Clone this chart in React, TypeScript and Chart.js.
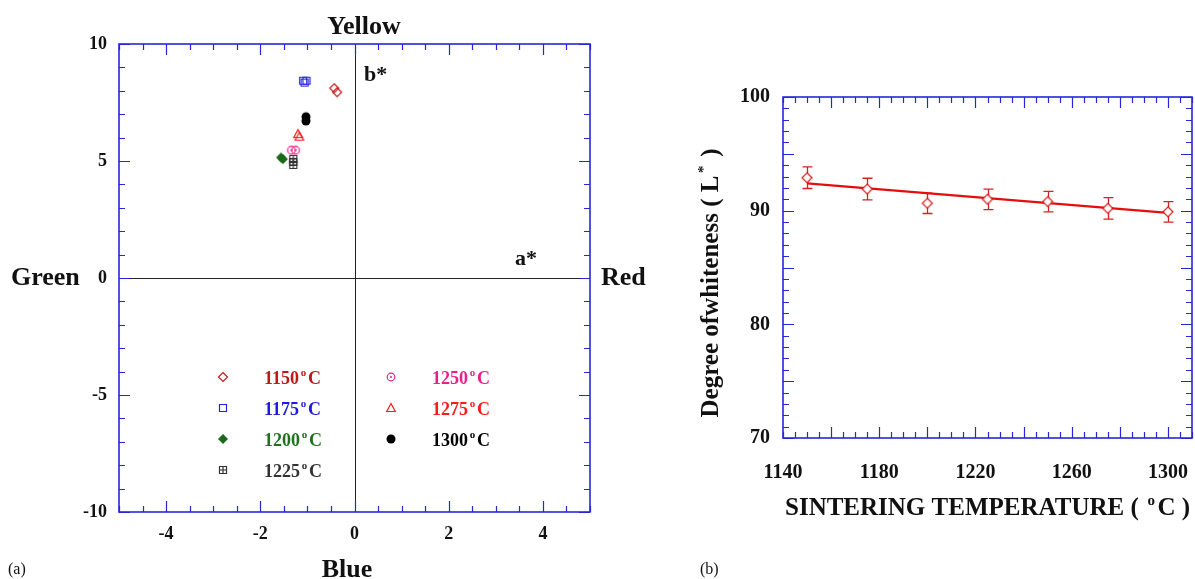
import React, { useEffect, useRef } from "react";
import { Chart, registerables } from "chart.js";

Chart.register(...registerables);

const FONT = "'Liberation Serif', 'Times New Roman', serif";
const BLUE = "rgb(38,38,222)";

// ---------- Panel (a): CIELAB a*, b* by sintering temperature ----------
const legendTemps = ["1150", "1175", "1200", "1225", "1250", "1275", "1300"];
const aStar1150 = [-0.43, -0.37];
const bStar1150 = [8.11, 7.94];
const aStar1175 = [-1.09, -1.02, -1.06];
const bStar1175 = [8.43, 8.43, 8.35];
const aStar1200 = [-1.56, -1.52];
const bStar1200 = [5.15, 5.08];
const aStar1225 = [-1.3, -1.3, -1.3];
const bStar1225 = [5.09, 4.96, 4.83];
const aStar1250 = [-1.34, -1.25];
const bStar1250 = [5.46, 5.46];
const aStar1275 = [-1.2, -1.17];
const bStar1275 = [6.15, 6.04];
const aStar1300 = [-1.03, -1.03];
const bStar1300 = [6.89, 6.71];
const aTickVals = [-4, -2, 0, 2, 4];
const bTickVals = [-10, -5, 0, 5, 10];

// ---------- Panel (b): whiteness vs sintering temperature ----------
const sinterTemps = [1150, 1175, 1200, 1225, 1250, 1275, 1300];
const whiteness = [92.9, 91.9, 90.65, 91.0, 90.8, 90.2, 89.9];
const whitenessErr = [0.95, 0.95, 0.9, 0.9, 0.9, 0.95, 0.9];
const fitTemps = [1150, 1300];
const fitWhiteness = [92.4, 89.8];
const tempTickVals = [1140, 1180, 1220, 1260, 1300];
const whiteTickVals = [70, 80, 90, 100];

type Part = { t: string; sup?: boolean };

function drawParts(
  ctx: CanvasRenderingContext2D,
  parts: Part[],
  x: number,
  y: number,
  size: number,
  weight: string,
  color: string,
  align: "left" | "center"
) {
  const main = `${weight} ${size}px ${FONT}`;
  const sup = `${weight} ${Math.round(size * 0.6)}px ${FONT}`;
  const gap = size * 0.1;
  let total = 0;
  for (const p of parts) {
    ctx.font = p.sup ? sup : main;
    total += ctx.measureText(p.t).width + (p.sup ? gap * 2 : 0);
  }
  let cx = align === "center" ? x - total / 2 : x;
  ctx.fillStyle = color;
  ctx.textAlign = "left";
  ctx.textBaseline = "alphabetic";
  for (const p of parts) {
    ctx.font = p.sup ? sup : main;
    if (p.sup) cx += gap;
    ctx.fillText(p.t, cx, p.sup ? y - size * 0.42 : y);
    cx += ctx.measureText(p.t).width + (p.sup ? gap : 0);
  }
}

function makeMarker(kind: string, color: string): HTMLCanvasElement {
  const s = 14;
  const c = document.createElement("canvas");
  c.width = s;
  c.height = s;
  const g = c.getContext("2d")!;
  const m = s / 2;
  g.strokeStyle = color;
  g.fillStyle = color;
  g.lineWidth = 1.2;
  g.beginPath();
  switch (kind) {
    case "diamond":
      g.moveTo(m, m - 4.5);
      g.lineTo(m + 4.5, m);
      g.lineTo(m, m + 4.5);
      g.lineTo(m - 4.5, m);
      g.closePath();
      g.stroke();
      break;
    case "diamondWhite":
      g.moveTo(m, m - 5);
      g.lineTo(m + 5, m);
      g.lineTo(m, m + 5);
      g.lineTo(m - 5, m);
      g.closePath();
      g.fillStyle = "#fff";
      g.fill();
      g.stroke();
      break;
    case "diamondFill":
      g.moveTo(m, m - 5);
      g.lineTo(m + 5, m);
      g.lineTo(m, m + 5);
      g.lineTo(m - 5, m);
      g.closePath();
      g.fill();
      break;
    case "square":
      g.rect(m - 3.5, m - 3.5, 7, 7);
      g.stroke();
      break;
    case "grid":
      g.rect(m - 3.5, m - 3.5, 7, 7);
      g.moveTo(m, m - 3.5);
      g.lineTo(m, m + 3.5);
      g.moveTo(m - 3.5, m);
      g.lineTo(m + 3.5, m);
      g.stroke();
      break;
    case "circleDot":
      g.arc(m, m, 3.8, 0, Math.PI * 2);
      g.stroke();
      g.beginPath();
      g.arc(m, m, 1, 0, Math.PI * 2);
      g.fill();
      break;
    case "triangle":
      g.moveTo(m, m - 4.5);
      g.lineTo(m + 4.3, m + 3.5);
      g.lineTo(m - 4.3, m + 3.5);
      g.closePath();
      g.stroke();
      break;
    case "circleFill":
      g.arc(m, m, 4.5, 0, Math.PI * 2);
      g.fill();
      break;
  }
  return c;
}

function drawInwardTicks(
  ctx: CanvasRenderingContext2D,
  chart: any,
  xMin: number,
  xMax: number,
  xStep: number,
  xMajor: (v: number) => boolean,
  yMin: number,
  yMax: number,
  yStep: number,
  yMajor: (v: number) => boolean
) {
  const { left, right, top, bottom } = chart.chartArea;
  const xs = chart.scales.x;
  const ys = chart.scales.y;
  ctx.save();
  ctx.strokeStyle = BLUE;
  ctx.lineWidth = 1.2;
  ctx.beginPath();
  const nx = Math.round((xMax - xMin) / xStep);
  for (let i = 0; i <= nx; i++) {
    const v = xMin + i * xStep;
    const px = Math.round(xs.getPixelForValue(v)) + 0.5;
    const len = xMajor(v) ? 11 : 6;
    ctx.moveTo(px, bottom);
    ctx.lineTo(px, bottom - len);
    ctx.moveTo(px, top);
    ctx.lineTo(px, top + len);
  }
  const ny = Math.round((yMax - yMin) / yStep);
  for (let i = 0; i <= ny; i++) {
    const v = yMin + i * yStep;
    const py = Math.round(ys.getPixelForValue(v)) + 0.5;
    const len = yMajor(v) ? 11 : 6;
    ctx.moveTo(left, py);
    ctx.lineTo(left + len, py);
    ctx.moveTo(right, py);
    ctx.lineTo(right - len, py);
  }
  ctx.stroke();
  ctx.lineWidth = 1.6;
  ctx.strokeRect(left, top, right - left, bottom - top);
  ctx.restore();
}

const legendSpecs = [
  { kind: "diamond", marker: "#c41a1a", text: "#c01818", col: 0, row: 0 },
  { kind: "square", marker: "#2424e0", text: "#1c1ce0", col: 0, row: 1 },
  { kind: "diamondFill", marker: "#1a6a1a", text: "#1f701f", col: 0, row: 2 },
  { kind: "grid", marker: "#333333", text: "#333333", col: 0, row: 3 },
  { kind: "circleDot", marker: "#e8208c", text: "#e8208c", col: 1, row: 0 },
  { kind: "triangle", marker: "#ff1a1a", text: "#ff1a1a", col: 1, row: 1 },
  { kind: "circleFill", marker: "#000000", text: "#000000", col: 1, row: 2 },
];

function PanelA() {
  const ref = useRef<HTMLCanvasElement>(null);
  useEffect(() => {
    const markers = legendSpecs.map((s) => makeMarker(s.kind, s.marker));
    const pairs = [
      [aStar1150, bStar1150],
      [aStar1175, bStar1175],
      [aStar1200, bStar1200],
      [aStar1225, bStar1225],
      [aStar1250, bStar1250],
      [aStar1275, bStar1275],
      [aStar1300, bStar1300],
    ];
    const datasets = pairs.map(([a, b], i) => ({
      label: legendTemps[i] + "°C",
      data: a.map((v, j) => ({ x: v, y: b[j] })),
      pointStyle: markers[i] as any,
      pointRadius: 5,
      showLine: false,
    }));

    const decor = {
      id: "decorA",
      beforeDatasetsDraw(chart: any) {
        const ctx = chart.ctx as CanvasRenderingContext2D;
        const { left, right, top, bottom } = chart.chartArea;
        const x0 = Math.round(chart.scales.x.getPixelForValue(0)) + 0.5;
        const y0 = Math.round(chart.scales.y.getPixelForValue(0)) + 0.5;
        ctx.save();
        ctx.strokeStyle = "#222";
        ctx.lineWidth = 1;
        ctx.beginPath();
        ctx.moveTo(x0, top);
        ctx.lineTo(x0, bottom);
        ctx.moveTo(left, y0);
        ctx.lineTo(right, y0);
        ctx.stroke();
        ctx.restore();
      },
      afterDraw(chart: any) {
        const ctx = chart.ctx as CanvasRenderingContext2D;
        drawInwardTicks(
          ctx,
          chart,
          -5,
          5,
          0.5,
          (v) => Math.abs(v % 2) < 1e-6,
          -10,
          10,
          1,
          (v) => Math.abs(v % 5) < 1e-6
        );
        ctx.save();
        drawParts(ctx, [{ t: "Yellow" }], 364, 34, 26, "bold", "#111", "center");
        drawParts(ctx, [{ t: "Blue" }], 347, 577, 26, "bold", "#111", "center");
        drawParts(ctx, [{ t: "Green" }], 11, 285, 26, "bold", "#111", "left");
        drawParts(ctx, [{ t: "Red" }], 601, 285, 26, "bold", "#111", "left");
        drawParts(ctx, [{ t: "a*" }], 515, 265, 22, "bold", "#111", "left");
        drawParts(ctx, [{ t: "b*" }], 364, 81, 22, "bold", "#111", "left");
        drawParts(ctx, [{ t: "(a)" }], 8, 574, 16, "normal", "#111", "left");
        const { left, top } = chart.chartArea;
        legendSpecs.forEach((s, i) => {
          const mx = left + (s.col === 0 ? 104 : 272);
          const my = top + 333 + s.row * 31;
          const mk = markers[i];
          ctx.drawImage(mk, Math.round(mx - mk.width / 2), Math.round(my - mk.height / 2));
          drawParts(
            ctx,
            [{ t: legendTemps[i] }, { t: "o", sup: true }, { t: "C" }],
            mx + 41,
            my + 7,
            18,
            "bold",
            s.text,
            "left"
          );
        });
        ctx.restore();
      },
    };

    const chart = new Chart(ref.current!, {
      type: "scatter",
      data: { datasets },
      options: {
        responsive: false,
        animation: false,
        devicePixelRatio: 1,
        layout: { padding: { top: 44, right: 60, left: 0, bottom: 0 } },
        plugins: { legend: { display: false }, tooltip: { enabled: false } },
        scales: {
          x: {
            type: "linear",
            min: -5,
            max: 5,
            afterBuildTicks: (s: any) => {
              s.ticks = aTickVals.map((v) => ({ value: v }));
            },
            afterFit: (s: any) => {
              s.height = 67;
            },
            grid: { display: false, drawTicks: false },
            border: { display: false },
            ticks: {
              autoSkip: false,
              maxRotation: 0,
              padding: 12,
              color: "#111",
              font: { family: FONT, size: 18, weight: "bold" },
              callback: (v: any) => String(v),
            },
          },
          y: {
            type: "linear",
            min: -10,
            max: 10,
            afterBuildTicks: (s: any) => {
              s.ticks = bTickVals.map((v) => ({ value: v }));
            },
            afterFit: (s: any) => {
              s.width = 119;
            },
            grid: { display: false, drawTicks: false },
            border: { display: false },
            ticks: {
              autoSkip: false,
              padding: 12,
              color: "#111",
              font: { family: FONT, size: 18, weight: "bold" },
              callback: (v: any) => String(v),
            },
          },
        },
      },
      plugins: [decor],
    } as any);
    return () => chart.destroy();
  }, []);
  return (
    <canvas
      ref={ref}
      width={650}
      height={579}
      style={{ position: "absolute", left: 0, top: 0, width: 650, height: 579 }}
    />
  );
}

function PanelB() {
  const ref = useRef<HTMLCanvasElement>(null);
  useEffect(() => {
    const dm = makeMarker("diamondWhite", "#d61a1a");
    const decor = {
      id: "decorB",
      beforeDatasetsDraw(chart: any) {
        const ctx = chart.ctx as CanvasRenderingContext2D;
        const xs = chart.scales.x;
        const ys = chart.scales.y;
        ctx.save();
        ctx.strokeStyle = "#d42222";
        ctx.lineWidth = 1.3;
        ctx.beginPath();
        sinterTemps.forEach((t, i) => {
          const px = Math.round(xs.getPixelForValue(t)) + 0.5;
          const pt = ys.getPixelForValue(whiteness[i] + whitenessErr[i]);
          const pb = ys.getPixelForValue(whiteness[i] - whitenessErr[i]);
          ctx.moveTo(px, pt);
          ctx.lineTo(px, pb);
          ctx.moveTo(px - 5, pt);
          ctx.lineTo(px + 5, pt);
          ctx.moveTo(px - 5, pb);
          ctx.lineTo(px + 5, pb);
        });
        ctx.stroke();
        ctx.restore();
      },
      afterDraw(chart: any) {
        const ctx = chart.ctx as CanvasRenderingContext2D;
        drawInwardTicks(
          ctx,
          chart,
          1140,
          1310,
          5,
          (v) => v > 1140 && (v - 1140) % 20 === 0,
          70,
          100,
          1,
          (v) => v % 5 === 0
        );
        ctx.save();
        ctx.translate(68, 283);
        ctx.rotate(-Math.PI / 2);
        drawParts(
          ctx,
          [{ t: "Degree ofwhiteness ( L" }, { t: "*", sup: true }, { t: " )" }],
          0,
          0,
          25,
          "bold",
          "#111",
          "center"
        );
        ctx.restore();
        ctx.save();
        drawParts(
          ctx,
          [{ t: "SINTERING TEMPERATURE ( " }, { t: "o", sup: true }, { t: "C )" }],
          135,
          515,
          25,
          "bold",
          "#111",
          "left"
        );
        drawParts(ctx, [{ t: "(b)" }], 50, 574, 16, "normal", "#111", "left");
        ctx.restore();
      },
    };

    const chart = new Chart(ref.current!, {
      type: "scatter",
      data: {
        datasets: [
          {
            label: "L*",
            data: sinterTemps.map((t, i) => ({ x: t, y: whiteness[i] })),
            pointStyle: dm as any,
            pointRadius: 5,
            showLine: false,
            order: 1,
          },
          {
            label: "fit",
            data: fitTemps.map((t, i) => ({ x: t, y: fitWhiteness[i] })),
            showLine: true,
            borderColor: "#e60d0d",
            borderWidth: 2.2,
            pointRadius: 0,
            fill: false,
            order: 2,
          },
        ],
      },
      options: {
        responsive: false,
        animation: false,
        devicePixelRatio: 1,
        layout: { padding: { top: 97, right: 58, left: 0, bottom: 0 } },
        plugins: { legend: { display: false }, tooltip: { enabled: false } },
        scales: {
          x: {
            type: "linear",
            min: 1140,
            max: 1310,
            afterBuildTicks: (s: any) => {
              s.ticks = tempTickVals.map((v) => ({ value: v }));
            },
            afterFit: (s: any) => {
              s.height = 141;
            },
            grid: { display: false, drawTicks: false },
            border: { display: false },
            ticks: {
              autoSkip: false,
              maxRotation: 0,
              padding: 23,
              color: "#111",
              font: { family: FONT, size: 20, weight: "bold" },
              callback: (v: any) => String(v),
            },
          },
          y: {
            type: "linear",
            min: 70,
            max: 100,
            afterBuildTicks: (s: any) => {
              s.ticks = whiteTickVals.map((v) => ({ value: v }));
            },
            afterFit: (s: any) => {
              s.width = 133;
            },
            grid: { display: false, drawTicks: false },
            border: { display: false },
            ticks: {
              autoSkip: false,
              padding: 13,
              color: "#111",
              font: { family: FONT, size: 20, weight: "bold" },
              callback: (v: any) => String(v),
            },
          },
        },
      },
      plugins: [decor],
    } as any);
    return () => chart.destroy();
  }, []);
  return (
    <canvas
      ref={ref}
      width={600}
      height={579}
      style={{ position: "absolute", left: 650, top: 0, width: 600, height: 579 }}
    />
  );
}

export default function App() {
  return (
    <div
      style={{
        position: "fixed",
        left: 0,
        top: 0,
        width: 1195,
        height: 579,
        overflow: "hidden",
        background: "#fff",
      }}
    >
      <PanelA />
      <PanelB />
    </div>
  );
}
